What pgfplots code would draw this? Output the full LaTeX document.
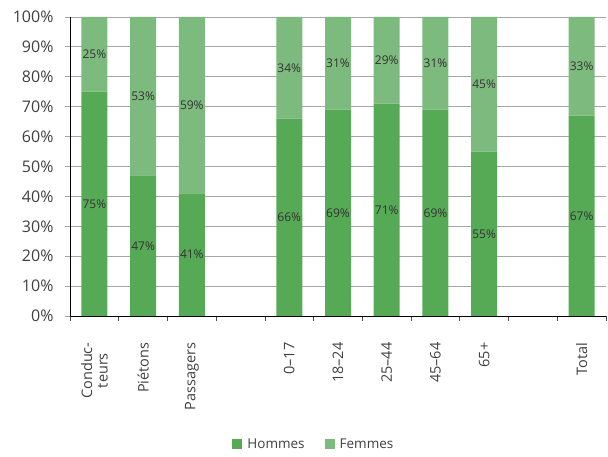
\documentclass[border=0pt]{standalone}
\usepackage{fontspec}
\setmainfont{Open Sans}
\usepackage{pgfplots}
\usepackage{pgfplotstable}
\pgfplotsset{compat=1.18}
\definecolor{hom}{HTML}{56AA56}
\definecolor{fem}{HTML}{7DBA7D}
\definecolor{txt}{HTML}{404040}
\pgfplotstableread{
x h f
0 75 25
1 47 53
2 41 59
4 66 34
5 69 31
6 71 29
7 69 31
8 55 45
10 67 33
}\data
\begin{document}
\begin{tikzpicture}
\begin{axis}[
  scale only axis, width=536pt, height=299pt, clip=false,
  ybar stacked, bar width=26pt,
  xmin=-0.5, xmax=10.5, ymin=0, ymax=100,
  axis x line*=bottom, axis y line*=left,
  axis line style={-, black, line width=0.8pt},
  ytick={0,10,...,100},
  yticklabel={\pgfmathprintnumber{\tick}\%},
  /pgf/number format/assume math mode=true,
  ymajorgrids, grid style={gray!70, line width=0.8pt},
  y tick style={gray!70, line width=0.8pt},
  tick align=outside, major tick length=5pt,
  yticklabel style={font=\fontsize{16}{17}\selectfont, text=txt, xshift=-8pt},
  xtick={0,1,2,4,5,6,7,8,10},
  xticklabels={{Conduc-\\teurs},Piétons,Passagers,0–17,18–24,25–44,45–64,65+,Total},
  x tick style={draw=none},
  minor xtick={-0.5,0.5,...,10.5},
  minor x tick style={draw=black!70, line width=0.8pt},
  minor tick length=5pt,
  xticklabel style={rotate=90, anchor=east, align=center, font=\fontsize{14.5}{15.5}\selectfont, text=txt, xshift=-18pt},
  nodes near coords={\pgfmathprintnumber{\pgfplotspointmeta}\%},
  every node near coord/.append style={font=\fontsize{12}{13}\selectfont, text=black!80, anchor=center},
  legend style={at={(0.455,-0.43)}, anchor=center, draw=none, legend columns=2,
    font=\fontsize{13.5}{15}\selectfont, text=txt,
    /tikz/every even column/.append style={column sep=18pt}},
  legend image code/.code={\fill[#1] (0pt,-4pt) rectangle (10pt,6pt); \path (13pt,0pt);},
]
\addplot+[draw=none, fill=hom, point meta=explicit] table[x=x, y=h, meta=h]{\data};
\addplot+[draw=none, fill=fem, point meta=explicit] table[x=x, y=f, meta=f]{\data};
\legend{Hommes, Femmes}
\path (rel axis cs:0,0) ++(-70pt,-141pt) (rel axis cs:1,1) ++(2pt,17pt);
\end{axis}
\end{tikzpicture}
\end{document}
